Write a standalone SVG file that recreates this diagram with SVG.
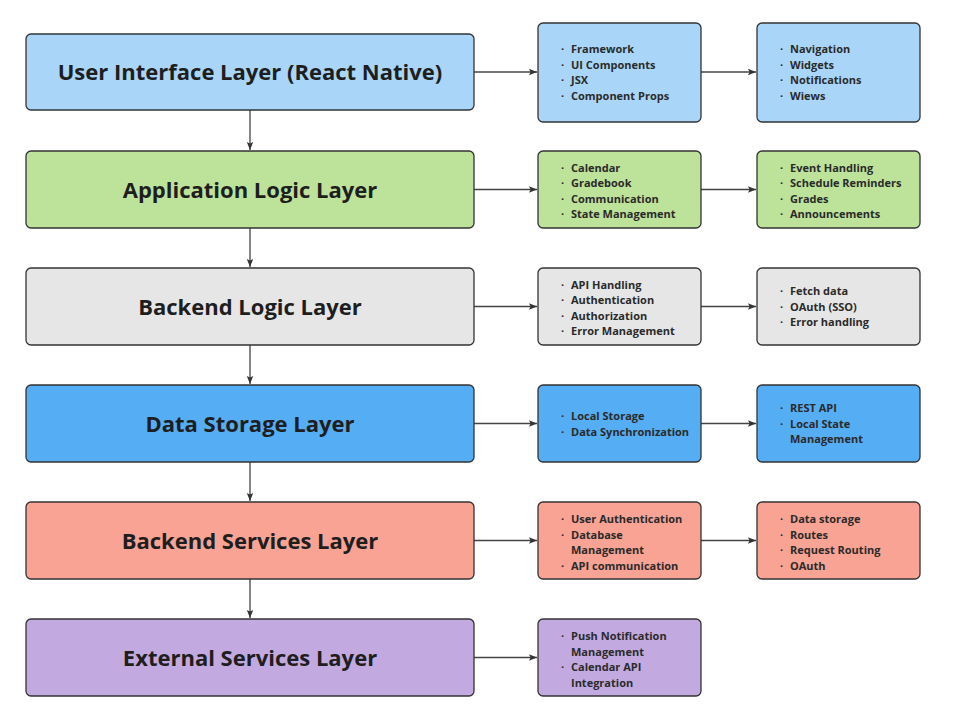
<svg xmlns="http://www.w3.org/2000/svg" width="953" height="727" viewBox="0 0 953 727">
<style>
.box{stroke:#333;stroke-width:1.3}
.title{font-family:"Open Sans","Liberation Sans",sans-serif;font-weight:700;font-size:22px;fill:#1e1e1e;text-anchor:middle}
.item{font-family:"Open Sans","Liberation Sans",sans-serif;font-weight:700;font-size:11px;fill:#2a2a2a}
.c1{fill:#a9d6f8}.c2{fill:#bde29a}.c3{fill:#e6e6e6}.c4{fill:#55adf3}.c5{fill:#f8a394}.c6{fill:#c2aae0}
.conn{stroke:#444;stroke-width:1.3;fill:none}
</style>
<defs>
<marker id="ah" viewBox="0 0 10 10" refX="10" refY="5" markerWidth="8" markerHeight="8" markerUnits="userSpaceOnUse" orient="auto">
<path d="M0,1 L10,5 L0,9 L2,5 Z" fill="#333"/>
</marker>
</defs>
<rect width="953" height="727" fill="#fff"/>
<g id="connectors">
<path class="conn" d="M250,110 V150" marker-end="url(#ah)"/>
<path class="conn" d="M250,228 V267" marker-end="url(#ah)"/>
<path class="conn" d="M250,345 V384" marker-end="url(#ah)"/>
<path class="conn" d="M250,462 V501" marker-end="url(#ah)"/>
<path class="conn" d="M250,579 V618" marker-end="url(#ah)"/>
<path class="conn" d="M474,72 H537" marker-end="url(#ah)"/>
<path class="conn" d="M701,72 H756" marker-end="url(#ah)"/>
<path class="conn" d="M474,189.5 H537" marker-end="url(#ah)"/>
<path class="conn" d="M701,189.5 H756" marker-end="url(#ah)"/>
<path class="conn" d="M474,306.5 H537" marker-end="url(#ah)"/>
<path class="conn" d="M701,306.5 H756" marker-end="url(#ah)"/>
<path class="conn" d="M474,423.5 H537" marker-end="url(#ah)"/>
<path class="conn" d="M701,423.5 H756" marker-end="url(#ah)"/>
<path class="conn" d="M474,540.5 H537" marker-end="url(#ah)"/>
<path class="conn" d="M701,540.5 H756" marker-end="url(#ah)"/>
<path class="conn" d="M474,657.5 H537" marker-end="url(#ah)"/>
</g>
<g id="ui-layer"><rect class="box c1" x="26" y="34" width="448" height="76" rx="5"/><text class="title" x="250" y="80">User Interface Layer (React Native)</text></g>
<g id="ui-items"><rect class="box c1" x="538" y="23" width="163" height="99" rx="5"/>
<text class="item" x="561" y="53">·</text><text class="item" x="571" y="53">Framework</text>
<text class="item" x="561" y="68.5">·</text><text class="item" x="571" y="68.5">UI Components</text>
<text class="item" x="561" y="84">·</text><text class="item" x="571" y="84">JSX</text>
<text class="item" x="561" y="99.5">·</text><text class="item" x="571" y="99.5">Component Props</text></g>
<g id="ui-details"><rect class="box c1" x="757" y="23" width="163" height="99" rx="5"/>
<text class="item" x="780" y="53">·</text><text class="item" x="790" y="53">Navigation</text>
<text class="item" x="780" y="68.5">·</text><text class="item" x="790" y="68.5">Widgets</text>
<text class="item" x="780" y="84">·</text><text class="item" x="790" y="84">Notifications</text>
<text class="item" x="780" y="99.5">·</text><text class="item" x="790" y="99.5">Wiews</text></g>

<g id="app-layer"><rect class="box c2" x="26" y="151" width="448" height="77" rx="5"/><text class="title" x="250" y="197.5">Application Logic Layer</text></g>
<g id="app-items"><rect class="box c2" x="538" y="151" width="163" height="77" rx="5"/>
<text class="item" x="561" y="171.5">·</text><text class="item" x="571" y="171.5">Calendar</text>
<text class="item" x="561" y="187">·</text><text class="item" x="571" y="187">Gradebook</text>
<text class="item" x="561" y="202.5">·</text><text class="item" x="571" y="202.5">Communication</text>
<text class="item" x="561" y="218">·</text><text class="item" x="571" y="218">State Management</text></g>
<g id="app-details"><rect class="box c2" x="757" y="151" width="163" height="77" rx="5"/>
<text class="item" x="780" y="171.5">·</text><text class="item" x="790" y="171.5">Event Handling</text>
<text class="item" x="780" y="187">·</text><text class="item" x="790" y="187">Schedule Reminders</text>
<text class="item" x="780" y="202.5">·</text><text class="item" x="790" y="202.5">Grades</text>
<text class="item" x="780" y="218">·</text><text class="item" x="790" y="218">Announcements</text></g>

<g id="backend-logic-layer"><rect class="box c3" x="26" y="268" width="448" height="77" rx="5"/><text class="title" x="250" y="314.5">Backend Logic Layer</text></g>
<g id="backend-logic-items"><rect class="box c3" x="538" y="268" width="163" height="77" rx="5"/>
<text class="item" x="561" y="288.5">·</text><text class="item" x="571" y="288.5">API Handling</text>
<text class="item" x="561" y="304">·</text><text class="item" x="571" y="304">Authentication</text>
<text class="item" x="561" y="319.5">·</text><text class="item" x="571" y="319.5">Authorization</text>
<text class="item" x="561" y="335">·</text><text class="item" x="571" y="335">Error Management</text></g>
<g id="backend-logic-details"><rect class="box c3" x="757" y="268" width="163" height="77" rx="5"/>
<text class="item" x="780" y="295">·</text><text class="item" x="790" y="295">Fetch data</text>
<text class="item" x="780" y="310.5">·</text><text class="item" x="790" y="310.5">OAuth (SSO)</text>
<text class="item" x="780" y="326">·</text><text class="item" x="790" y="326">Error handling</text></g>

<g id="storage-layer"><rect class="box c4" x="26" y="385" width="448" height="77" rx="5"/><text class="title" x="250" y="431.5">Data Storage Layer</text></g>
<g id="storage-items"><rect class="box c4" x="538" y="385" width="163" height="77" rx="5"/>
<text class="item" x="561" y="420">·</text><text class="item" x="571" y="420">Local Storage</text>
<text class="item" x="561" y="435.5">·</text><text class="item" x="571" y="435.5">Data Synchronization</text></g>
<g id="storage-details"><rect class="box c4" x="757" y="385" width="163" height="77" rx="5"/>
<text class="item" x="780" y="412">·</text><text class="item" x="790" y="412">REST API</text>
<text class="item" x="780" y="427.5">·</text><text class="item" x="790" y="427.5">Local State</text>
<text class="item" x="790" y="443">Management</text></g>

<g id="services-layer"><rect class="box c5" x="26" y="502" width="448" height="77" rx="5"/><text class="title" x="250" y="548.5">Backend Services Layer</text></g>
<g id="services-items"><rect class="box c5" x="538" y="502" width="163" height="77" rx="5"/>
<text class="item" x="561" y="523">·</text><text class="item" x="571" y="523">User Authentication</text>
<text class="item" x="561" y="538.5">·</text><text class="item" x="571" y="538.5">Database</text>
<text class="item" x="571" y="554">Management</text>
<text class="item" x="561" y="569.5">·</text><text class="item" x="571" y="569.5">API communication</text></g>
<g id="services-details"><rect class="box c5" x="757" y="502" width="163" height="77" rx="5"/>
<text class="item" x="780" y="523">·</text><text class="item" x="790" y="523">Data storage</text>
<text class="item" x="780" y="538.5">·</text><text class="item" x="790" y="538.5">Routes</text>
<text class="item" x="780" y="554">·</text><text class="item" x="790" y="554">Request Routing</text>
<text class="item" x="780" y="569.5">·</text><text class="item" x="790" y="569.5">OAuth</text></g>

<g id="external-layer"><rect class="box c6" x="26" y="619" width="448" height="77" rx="5"/><text class="title" x="250" y="665.5">External Services Layer</text></g>
<g id="external-items"><rect class="box c6" x="538" y="619" width="163" height="77" rx="5"/>
<text class="item" x="561" y="640">·</text><text class="item" x="571" y="640">Push Notification</text>
<text class="item" x="571" y="655.5">Management</text>
<text class="item" x="561" y="671">·</text><text class="item" x="571" y="671">Calendar API</text>
<text class="item" x="571" y="686.5">Integration</text></g>
</svg>
